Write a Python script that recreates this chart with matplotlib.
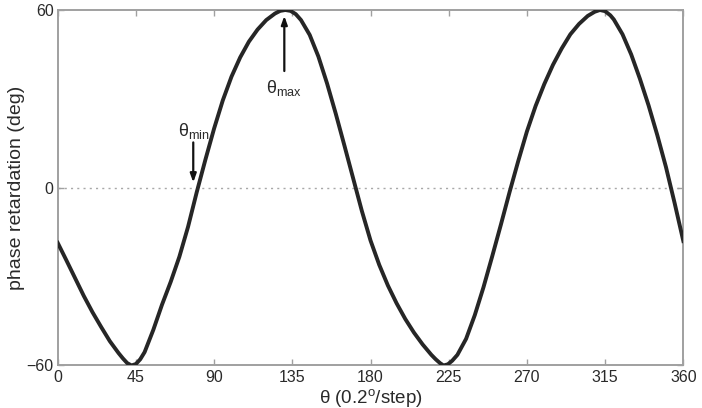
import matplotlib
matplotlib.use("Agg")
import matplotlib.pyplot as plt

# ---- data ----
theta = [0, 5, 10, 15, 20, 25, 30, 35, 37.5, 40, 42.5, 45, 47.5, 50, 55, 60, 65, 70,
         75, 80, 85, 90, 95, 100, 105, 110, 115, 120, 125, 128, 131, 134, 137, 140,
         145, 150, 155, 160, 165, 170, 175, 180,
         185, 190, 195, 200, 205, 210, 215, 217.5, 220, 222, 224.5, 227, 230, 235,
         240, 245, 250, 255, 260, 265, 270, 275, 280, 285, 290, 295, 300, 305,
         309, 312, 315, 318, 320, 325, 330, 335, 340, 345, 350, 355, 360]
retardation = [-18.6, -24.5, -30.5, -36.5, -42.0, -47.0, -51.8, -55.8, -57.6, -59.2,
               -60.0, -59.5, -57.9, -55.5, -48.0, -39.5, -31.8, -23.3,
               -13.2, -1.5, 9.5, 20.0, 29.5, 37.5, 44.0, 49.3, 53.4, 56.6, 58.8,
               59.7, 60.0, 59.7, 58.6, 56.6, 51.6, 44.3, 35.2, 25.0, 14.2, 3.2,
               -7.8, -17.8,
               -26.0, -33.0, -39.0, -44.3, -48.9, -52.9, -56.4, -57.9, -59.2, -60.0,
               -59.6, -58.4, -56.4, -51.0, -43.0, -33.6, -23.2, -12.5, -1.5, 9.0,
               19.0, 27.6, 35.0, 41.5, 47.0, 51.8, 55.3, 58.0, 59.4, 60.0, 59.6,
               58.2, 56.8, 51.8, 45.0, 36.8, 27.8, 17.8, 7.0, -5.2, -18.0]
xticks = [0, 45, 90, 135, 180, 225, 270, 315, 360]
yticks = [-60, 0, 60]
ytick_labels = ["\u221260", "0", "60"]
theta_max = 130.4
theta_min = 78.0

plt.rcParams['font.family'] = ['Liberation Sans', 'DejaVu Sans']
plt.rcParams['mathtext.fontset'] = 'custom'
plt.rcParams['mathtext.rm'] = 'Liberation Sans'
plt.rcParams['mathtext.it'] = 'Liberation Sans:italic'

fig = plt.figure(figsize=(7.02, 4.08), dpi=100)
ax = fig.add_axes([0.0822, 0.1042, 0.8912, 0.8713])

spine_c = '#a0a0a0'
text_c = '#2a2a2a'

ax.axhline(0, color='#a8a8a8', lw=1.0, ls=(0, (1.5, 3)), zorder=1)
ax.plot(theta, retardation, color='#262626', lw=2.8, solid_joinstyle='round', zorder=3)

ax.set_xlim(0, 360)
ax.set_ylim(-60, 60)
ax.set_xticks(xticks)
ax.set_yticks(yticks)
ax.set_yticklabels(ytick_labels)

for s in ax.spines.values():
    s.set_color(spine_c)
    s.set_linewidth(1.4)
ax.tick_params(direction='in', length=4.5, width=1.0, color=spine_c,
               top=True, right=True, labelsize=11.5, labelcolor=text_c, pad=3)

ax.set_xlabel("\u03b8 (0.2$^{\\rm o}$/step)", fontsize=13.5, color=text_c, labelpad=1.5)
ax.set_ylabel("phase retardation (deg)", fontsize=14, color=text_c, labelpad=1)

# annotations
ax.annotate('', xy=(theta_max, 58.0), xytext=(theta_max, 39.4),
            arrowprops=dict(arrowstyle='-|>,head_length=0.5,head_width=0.18',
                            color='#111111', lw=1.6, shrinkA=0, shrinkB=0), zorder=4)
ax.text(theta_max, 37.0, "\u03b8$_{\\rm max}$", ha='center', va='top',
        fontsize=13, color=text_c)

ax.annotate('', xy=(theta_min, 1.8), xytext=(theta_min, 15.3),
            arrowprops=dict(arrowstyle='-|>,head_length=0.5,head_width=0.18',
                            color='#111111', lw=1.6, shrinkA=0, shrinkB=0), zorder=4)
ax.text(theta_min + 0.5, 15.8, "\u03b8$_{\\rm min}$", ha='center', va='bottom',
        fontsize=13, color=text_c)

fig.savefig('out.png', dpi=100)
